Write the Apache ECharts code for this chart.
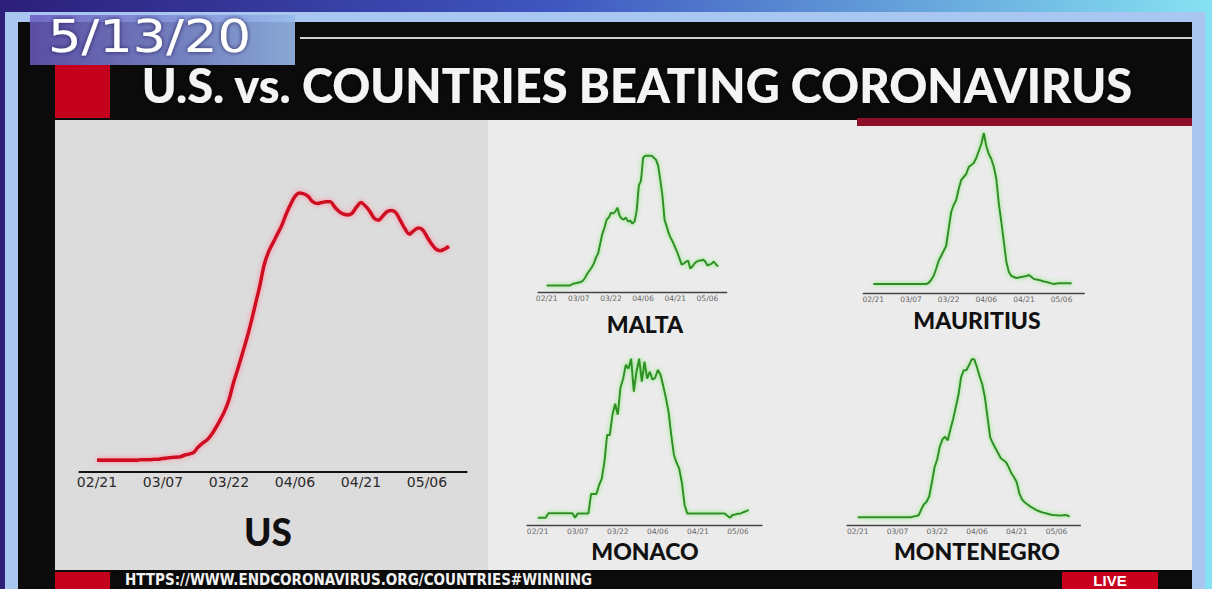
<!DOCTYPE html>
<html>
<head>
<meta charset="utf-8">
<script src="https://cdn.jsdelivr.net/npm/echarts@6/dist/echarts.min.js"></script>
<style>
html, body { margin: 0; padding: 0; background: #000; }
#chart { width: 1212px; height: 589px; }
</style>
</head>
<body>
<div id="chart"></div>
<script>
// 7-day average new cases, one value per day from 02/21/2020
var tickLabels = ['02/21', '03/07', '03/22', '04/06', '04/21', '05/06'];

// US, thousands
var usCases = [0.1, 0.1, 0.1, 0.1, 0.1, 0.1, 0.1, 0.1, 0.1, 0.1, 0.15, 0.15, 0.15, 0.2,
    0.2, 0.3, 0.35, 0.4, 0.45, 0.5, 0.7, 0.8, 1.0, 1.6, 2.05, 2.4, 3.0, 3.8, 4.7, 5.7,
    7.0, 8.9, 10.5, 12.2, 13.9, 15.8, 17.9, 20.0, 22.4, 23.9, 24.9, 25.9, 26.9, 28.2,
    29.3, 30.2, 30.6, 30.5, 30.2, 29.6, 29.4, 29.5, 29.6, 29.6, 29.0, 28.5, 28.2, 28.1,
    28.3, 29.0, 29.5, 29.1, 28.5, 27.7, 27.5, 28.0, 28.5, 28.6, 28.3, 27.4, 26.5, 25.9,
    26.3, 26.6, 26.4, 25.6, 24.8, 24.2, 24.0, 24.2, 24.5];

var maltaCases = [0, 0, 0, 0, 0, 0, 0, 0, 0, 0, 0, 0,
    0.15, 0.2, 0.25, 0.3, 0.35, 0.5, 0.8, 1.2, 1.5, 1.8, 2.2, 2.8, 3.2, 4.2, 5.2, 5.8,
    6.6, 6.8, 7.3, 7.2, 7.4, 7.8, 7.0, 6.7, 6.6, 6.8, 6.4, 6.5, 6.2, 6.4, 7.5, 10.0,
    10.5, 12.8, 13.0, 13.0, 13.0, 13.0, 12.8, 12.6, 12.0, 10.6, 9.0, 6.6, 5.9, 5.2,
    4.7, 4.3, 3.8, 3.3, 2.7, 2.1, 2.2, 2.4, 2.5, 1.7, 1.9, 2.2, 2.4, 2.5, 2.5, 2.6,
    2.4, 2.0, 2.1, 2.2, 2.4, 2.1, 1.9];

var mauritiusCases = [0, 0, 0, 0, 0, 0, 0, 0, 0, 0, 0, 0, 0, 0, 0, 0, 0, 0, 0, 0, 0, 0,
    0.1, 0.4, 0.8, 1.5, 2.3, 2.8, 3.3, 3.8, 5.5, 7.2, 7.9, 8.4, 9.5, 10.4, 10.7, 11.0,
    11.7, 11.9, 12.1, 12.6, 13.3, 14.0, 15.1, 13.8, 13.0, 12.5, 11.7, 10.5, 8.0, 6.2,
    4.2, 2.2, 1.2, 0.8, 0.7, 0.6, 0.65, 0.7, 0.75, 0.8, 0.9, 0.7, 0.5, 0.45, 0.4, 0.33,
    0.25, 0.2, 0.13, 0.06, 0, 0.05, 0.07, 0.07, 0.07, 0.07, 0.07, 0.07];

var monacoCases = [0, 0, 0, 0, 0.45, 0.45, 0.45, 0.45, 0.45, 0.45, 0.45, 0.45, 0.45, 0.45,
    0, 0.43, 0.43, 0.43, 0.43, 0.43, 2.37, 2.37, 2.37, 3.27, 3.9, 5.6, 8.27, 8.27, 10.3,
    11.4, 10.3, 13.0, 13.9, 15.3, 14.9, 15.9, 12.6, 14.6, 15.9, 13.6, 15.6, 13.9, 14.6,
    13.8, 14.0, 14.8, 14.3, 13.2, 12.0, 10.6, 8.3, 6.3, 5.5, 4.9, 3.5, 1.3, 0.43, 0.43,
    0.43, 0.43, 0.43, 0.43, 0.43, 0.43, 0.43, 0.43, 0.43, 0.43, 0.43, 0.43, 0.43, 0.2,
    0, 0.27, 0.33, 0.4, 0.43, 0.55, 0.65, 0.77];

var montenegroCases = [0, 0, 0, 0, 0, 0, 0, 0, 0, 0, 0, 0, 0, 0, 0, 0, 0, 0, 0, 0, 0,
    0.07, 0.13, 0.2, 0.8, 1.3, 1.55, 2.1, 3.5, 5.0, 5.8, 7.1, 7.8, 8.05, 7.7, 8.8, 9.8,
    11.0, 12.2, 14.0, 14.7, 14.7, 15.2, 15.8, 15.8, 15.0, 14.1, 13.3, 12.0, 10.0, 8.0,
    7.4, 6.9, 6.4, 5.9, 5.7, 5.5, 5.0, 4.4, 4.0, 3.5, 2.4, 1.8, 1.5, 1.3, 1.1, 0.95, 0.8,
    0.65, 0.55, 0.47, 0.4, 0.33, 0.25, 0.22, 0.2, 0.17, 0.18, 0.22, 0.2, 0.07];

// axis runs from 02/17 to 05/15, data begins 02/21
function mmdd(d) {
    var m = d.getMonth() + 1, day = d.getDate();
    return (m < 10 ? '0' : '') + m + '/' + (day < 10 ? '0' : '') + day;
}
var axisDays = [];
for (var i = 0; i < 89; i++) {
    axisDays.push(mmdd(new Date(2020, 1, 17 + i)));
}
var firstDay = 4;

function toPairs(values) {
    return values.map(function (v, i) { return [axisDays[firstDay + i], v]; });
}

var chart = echarts.init(document.getElementById('chart'), null, { renderer: 'svg' });

var panels = [
    // grid box, y range, label size
    { left: 79.4, top: 150, width: 387.2, height: 322, min: -1.25, max: 35.5, big: true },
    { left: 538.1, top: 150, width: 188.6, height: 142, min: -0.65, max: 13.57 },
    { left: 863.3, top: 125, width: 220.9, height: 168, min: -0.9, max: 15.9 },
    { left: 527, top: 350, width: 235, height: 175, min: -0.73, max: 16.77 },
    { left: 847.1, top: 350, width: 233.2, height: 175, min: -0.77, max: 16.73 }
];
var seriesData = [usCases, maltaCases, mauritiusCases, monacoCases, montenegroCases];

var option = {
    animation: false,
    grid: [],
    xAxis: [],
    yAxis: [],
    series: [],
    graphic: []
};

panels.forEach(function (p, idx) {
    option.grid.push({ left: p.left, top: p.top, width: p.width, height: p.height });
    option.xAxis.push({
        type: 'category',
        gridIndex: idx,
        data: axisDays,
        boundaryGap: false,
        axisLine: { onZero: false, lineStyle: { color: p.big ? '#111' : '#444', width: p.big ? 2 : 1.4 } },
        axisTick: { show: false },
        splitLine: { show: false },
        axisLabel: {
            interval: function (n, value) { return tickLabels.indexOf(value) >= 0; },
            color: p.big ? '#2a2a2a' : '#666',
            fontFamily: 'DejaVu Sans',
            fontSize: p.big ? 14 : 7.5,
            margin: p.big ? 3 : 2
        }
    });
    option.yAxis.push({
        type: 'value',
        gridIndex: idx,
        min: p.min,
        max: p.max,
        show: false,
        splitLine: { show: false }
    });
    option.series.push({
        type: 'line',
        xAxisIndex: idx,
        yAxisIndex: idx,
        data: toPairs(seriesData[idx]),
        showSymbol: false,
        smooth: p.big ? 0.3 : false,
        lineStyle: p.big
            ? { color: '#cf0a24', width: 3.6, shadowColor: 'rgba(255,130,150,0.9)', shadowBlur: 5 }
            : { color: '#2f8f27', width: 2, shadowColor: 'rgba(120,235,100,0.95)', shadowBlur: 4 }
    });
});

function rect(x, y, w, h, fill, z) {
    return { type: 'rect', z: z || -10, silent: true, shape: { x: x, y: y, width: w, height: h }, style: { fill: fill } };
}
function label(x, y, text, font, fill, align, shadow) {
    var el = {
        type: 'text', x: x, y: y, z: 10, silent: true,
        style: { text: text, font: font, fill: fill, align: align || 'center', verticalAlign: 'middle' }
    };
    if (shadow) {
        el.style.textShadowColor = shadow;
        el.style.textShadowBlur = 4;
    }
    return el;
}

var dateText = label(48, 37, '5/13/20', '45px "DejaVu Sans"', '#ffffff', 'left', 'rgba(30,20,80,0.9)');
dateText.scaleX = 1.17;

option.graphic = [
    rect(0, 0, 1212, 589, new echarts.graphic.LinearGradient(0, 0, 1, 0, [
        { offset: 0, color: '#2d1f7a' }, { offset: 0.45, color: '#3e55bf' }, { offset: 1, color: '#86e2f2' }
    ]), -30),
    rect(5, 12, 1200, 577, '#a8c6f0', -25),
    rect(18, 22, 1174, 567, '#0b0b0b', -20),
    rect(300, 37, 892, 2, '#d0d0d0', -19),
    rect(55, 65, 55, 53, '#c4001d', -19),
    rect(55, 120, 433, 450, '#dcdcdc', -18),
    rect(488, 120, 704, 450, '#ebebeb', -18),
    rect(857, 118, 335, 8, '#8c1028', -17),
    rect(55, 572, 55, 17, '#c4001d', -17),
    rect(1062, 572, 96, 17, '#c8001e', -17),
    {
        type: 'rect', z: -15, silent: true, shape: { x: 30, y: 15, width: 265, height: 50 },
        style: { fill: new echarts.graphic.LinearGradient(0, 0, 1, 0, [
            { offset: 0, color: 'rgba(105,90,190,0.85)' }, { offset: 1, color: 'rgba(150,185,235,0.9)' }
        ]) }
    },
    dateText,
    label(637, 85, 'U.S. vs. COUNTRIES BEATING CORONAVIRUS', '900 47px Lato', '#f4f4f4', 'center', 'rgba(0,0,0,0.9)'),
    label(268, 531, 'US', '900 37px Lato', '#111111'),
    label(645, 324, 'MALTA', '900 23px Lato', '#111111'),
    label(977, 320, 'MAURITIUS', '900 23px Lato', '#111111'),
    label(645, 551, 'MONACO', '900 23px Lato', '#111111'),
    label(977, 551, 'MONTENEGRO', '900 23px Lato', '#111111'),
    label(125, 580, 'HTTPS://WWW.ENDCORONAVIRUS.ORG/COUNTRIES#WINNING', 'bold 15px "DejaVu Sans Condensed"', '#f2f2f2', 'left'),
    label(1110, 580, 'LIVE', 'bold 15px "Liberation Sans"', '#ffffff')
];

chart.setOption(option);
</script>
</body>
</html>
